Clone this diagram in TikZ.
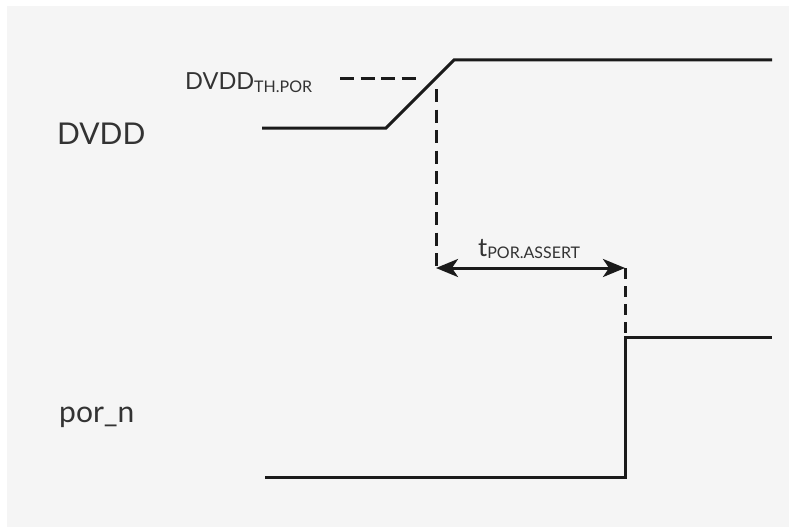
\documentclass[tikz,border=0pt]{standalone}
\usepackage{fontspec}
\setmainfont{Lato}
\usetikzlibrary{arrows.meta}
\definecolor{bg}{HTML}{F5F5F5}
\definecolor{txt}{HTML}{333333}
\definecolor{wire}{HTML}{1A1A1A}
\begin{document}
\begin{tikzpicture}[x=1pt,y=-1pt,
  sig/.style={line width=3pt, draw=wire, line join=miter},
  dsh/.style={line width=3pt, draw=wire, dash pattern=on 12pt off 7pt},
  lbl/.style={text=txt, inner sep=0pt, anchor=base west},
  dim/.style={line width=3pt, draw=wire, {Stealth[length=22pt,width=18pt,inset=6pt]}-{Stealth[length=22pt,width=18pt,inset=6pt]}}]
\useasboundingbox (0,0) rectangle (789,527);
\fill[white] (0,0) rectangle (789,527);
\fill[bg] (7,6) rectangle (789,527);

% DVDD waveform
\coordinate (d0) at (262,128);
\coordinate (d1) at (386,128);
\coordinate (d2) at (454,60);
\coordinate (d3) at (772,60);
\draw[sig] (d0) -- (d1) -- (d2) -- (d3);

% threshold
\coordinate (th0) at (340,78);
\coordinate (th1) at (417,78);
\draw[dsh, dash pattern=on 14pt off 6.5pt] (th0) -- (th1);

% por_n waveform
\coordinate (p0) at (265,477);
\coordinate (p1) at (625,477);
\coordinate (p2) at (625,337);
\coordinate (p3) at (772,337);
\draw[sig] (p0) -- (p1) -- (p2) -- (p3);

% timing markers
\coordinate (v0) at (436,89);
\coordinate (v1) at (436,268);
\coordinate (w0) at (625,268);
\draw[dsh, dash pattern=on 13pt off 7.5pt] (v0) -- (v1);
\draw[dsh, dash pattern=on 11pt off 7pt] (w0) -- (p2);
\draw[dim] (v1) -- (w0);

% labels
\node[lbl, font=\fontsize{30}{30}\selectfont] (ldvdd) at (57,144) {DVDD};
\node[lbl, font=\fontsize{30}{30}\selectfont] (lpor) at (59,422) {por\_n};
\node[lbl] (lth) at (185,89) {\fontsize{23.5}{24}\selectfont DVDD\raisebox{-3pt}{\fontsize{16}{16}\selectfont TH.POR}};
\node[lbl] (lt) at (478,256) {\fontsize{25.5}{26}\selectfont t\raisebox{-2pt}{\fontsize{16}{16}\selectfont POR.ASSERT}};
\end{tikzpicture}
\end{document}
